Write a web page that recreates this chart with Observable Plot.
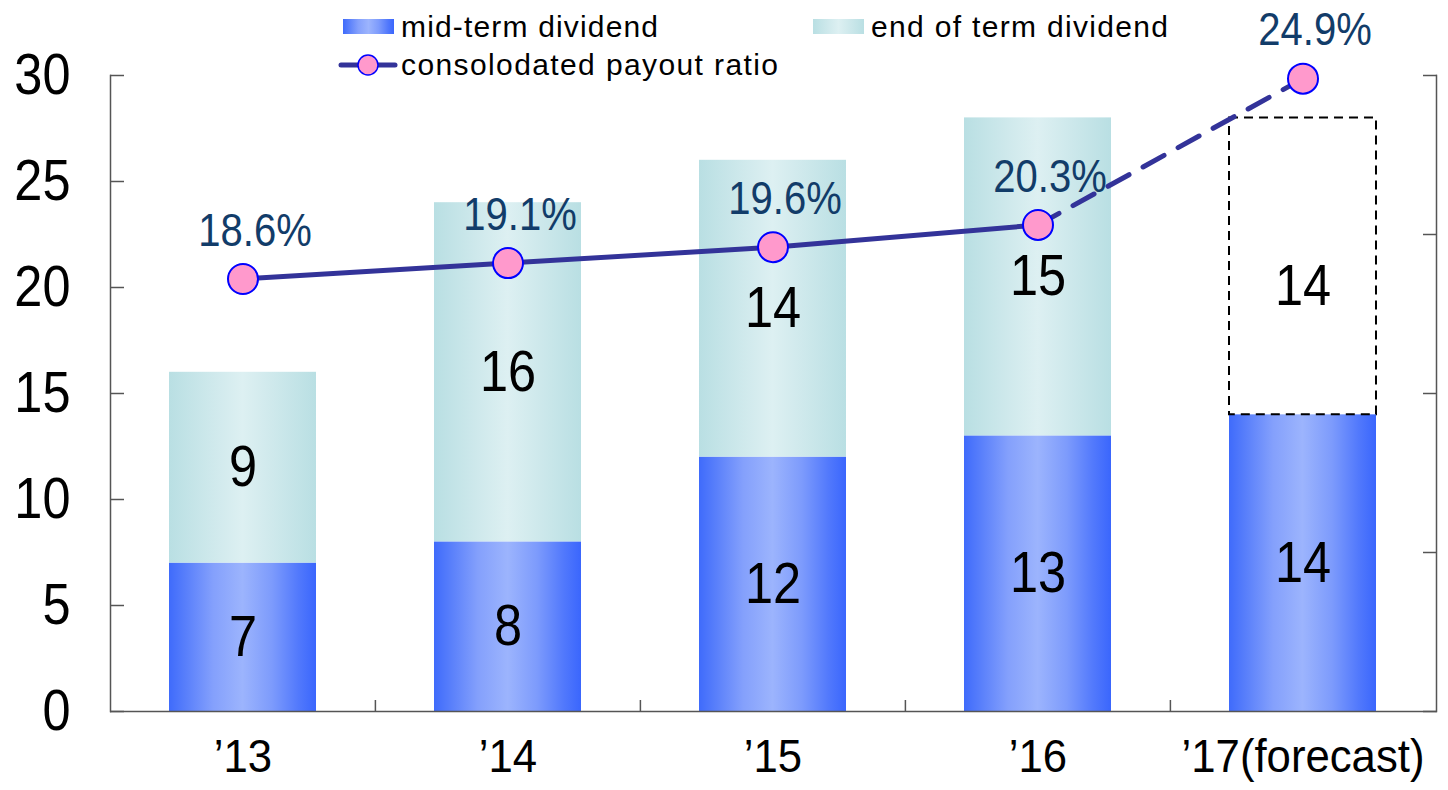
<!DOCTYPE html>
<html>
<head>
<meta charset="utf-8">
<script src="https://cdn.jsdelivr.net/npm/d3@7"></script>
<script src="https://cdn.jsdelivr.net/npm/@observablehq/plot@0.6"></script>
<style>
  html, body { margin: 0; padding: 0; background: #fff; }
  #chart { position: relative; width: 1448px; height: 790px; }
  #chart svg { position: absolute; left: 0; top: 0; }
</style>
</head>
<body>
<div id="chart"></div>
<script>
// Fiscal years and dividends per share (yen)
const years = ["’13", "’14", "’15", "’16", "’17(forecast)"];
const midTerm = [7, 8, 12, 13, 14];
const endTerm = [9, 16, 14, 15, 14];
// Consolidated payout ratio (%)
const payoutRatio = [18.6, 19.1, 19.6, 20.3, 24.9];
const yTicks = [0, 5, 10, 15, 20, 25, 30];
const ratioTicks = [5, 10, 15, 20, 25];
const legendLabels = ["mid-term dividend", "end of term dividend", "consolodated payout ratio"];

const W = 1448, H = 790;
const mL = 110, mR = 12, mT = 75, mB = 79;
const FONT = `"Liberation Sans", Arimo, Arial, sans-serif`;

// The payout ratio sits on a secondary scale (5%–25%) mapped onto the 0–30 dividend axis
const yMax = 30, ratioMin = 5, ratioMax = 25;
const toLeft = p => (p - ratioMin) * yMax / (ratioMax - ratioMin);

const rows = years.map((year, i) => ({
  year, mid: midTerm[i], end: endTerm[i], ratio: payoutRatio[i], forecast: i === years.length - 1
}));
const actual = rows.filter(d => !d.forecast);
const forecast = rows.filter(d => d.forecast);
const forecastLink = rows.slice(-2);

const MID_STOPS = [[0, "#3f6bfb"], [0.12, "#5a80fb"], [0.3, "#84a0fc"], [0.5, "#9cb4fd"], [0.7, "#7d9bfc"], [0.88, "#5279fc"], [1, "#3a66fd"]];
const END_STOPS = [[0, "#b9dfe3"], [0.3, "#cfe9ec"], [0.5, "#ddf0f2"], [0.7, "#cfe9ec"], [1, "#b9dfe3"]];

// Horizontal "cylinder" shading for the bars
function addGradient(defs, id, stops) {
  const g = defs.append("linearGradient").attr("id", id).attr("x1", 0).attr("x2", 1).attr("y1", 0).attr("y2", 0);
  for (const [o, c] of stops) g.append("stop").attr("offset", o).attr("stop-color", c);
}
function gradients() {
  const defs = d3.create("svg:defs");
  addGradient(defs, "gradMid", MID_STOPS);
  addGradient(defs, "gradEnd", END_STOPS);
  return defs.node();
}

const step = (W - mL - mR) / years.length;

const chart = Plot.plot({
  width: W, height: H,
  marginLeft: mL, marginRight: mR, marginTop: mT, marginBottom: mB,
  style: { fontFamily: FONT, background: "transparent", overflow: "visible", color: "#000" },
  x: { domain: years, paddingInner: 0.445, paddingOuter: 0.2225, label: null },
  y: { domain: [0, yMax], label: null },
  marks: [
    gradients,
    // dividends
    Plot.barY(rows, { x: "year", y1: 0, y2: "mid", fill: "url(#gradMid)" }),
    Plot.barY(actual, { x: "year", y1: "mid", y2: d => d.mid + d.end, fill: "url(#gradEnd)" }),
    Plot.barY(forecast, {
      x: "year", y1: "mid", y2: d => d.mid + d.end,
      fill: "white", stroke: "#000", strokeWidth: 2, strokeDasharray: "9,6"
    }),
    // frame lines
    Plot.frame({ anchor: "left", stroke: "#555", strokeWidth: 1.5 }),
    Plot.frame({ anchor: "right", stroke: "#555", strokeWidth: 1.5 }),
    Plot.ruleY([0], { stroke: "#555", strokeWidth: 1.5 }),
    // left axis: labels and inward ticks
    Plot.axisY({ anchor: "left", ticks: yTicks, tickSize: 0, tickPadding: 40, fontSize: 58, label: null, stroke: "none" }),
    Plot.axisY({ anchor: "left", ticks: yTicks, tickSize: -14, fill: "none", stroke: "#555", strokeWidth: 1.5, label: null }),
    // right axis: ratio ticks only
    Plot.axisY({ anchor: "right", ticks: ratioTicks.map(toLeft), tickSize: -14, fill: "none", stroke: "#555", strokeWidth: 1.5, label: null }),
    // category axis
    Plot.axisX({ anchor: "bottom", tickSize: 0, tickPadding: 27, fontSize: 47, label: null }),
    Plot.ruleX(years.slice(1), { x: d => d, y1: 0, y2: 0.52, dx: -step / 2, stroke: "#555", strokeWidth: 1.5 }),
    // dividend values
    Plot.text(rows, { x: "year", y: d => d.mid / 2, text: d => String(d.mid), fontSize: 58, fill: "#000" }),
    Plot.text(actual, { x: "year", y: d => d.mid + d.end / 2, text: d => String(d.end), fontSize: 58, fill: "#000" }),
    Plot.text(forecast, { x: "year", y: d => d.mid + d.end / 2, text: d => String(d.end), fontSize: 58, fill: "#000", dy: 20 }),
    // payout ratio labels
    Plot.text(rows, {
      x: "year", y: d => toLeft(d.ratio), text: d => d.ratio.toFixed(1) + "%",
      dx: 12, dy: -48, fontSize: 46, fill: "#123c69", ariaLabel: "ratio label"
    }),
    // payout ratio line
    Plot.line(actual, { x: "year", y: d => toLeft(d.ratio), stroke: "#333399", strokeWidth: 5 }),
    Plot.line(forecastLink, { x: "year", y: d => toLeft(d.ratio), stroke: "#333399", strokeWidth: 5, strokeDasharray: "24,16" }),
    Plot.dot(rows, { x: "year", y: d => toLeft(d.ratio), r: 15, fill: "#ff99cc", stroke: "#0000ff", strokeWidth: 2 })
  ]
});

const root = document.getElementById("chart");
root.appendChild(chart);

// Narrow the lettering horizontally (condensed look)
function squeeze(selection, k) {
  selection.each(function () {
    const w = this.getComputedTextLength();
    if (w > 0) {
      this.setAttribute("textLength", w * k);
      this.setAttribute("lengthAdjust", "spacingAndGlyphs");
    }
  });
}
const svg = d3.select(chart);
const RATIO_SEL = 'g[aria-label="ratio label"]';
const XTICK_SEL = 'g[aria-label="x-axis tick label"]';
squeeze(svg.selectAll("text").filter(function () {
  return this.closest(RATIO_SEL) == null && this.closest(XTICK_SEL) == null;
}), 0.87);
squeeze(svg.selectAll(`${RATIO_SEL} text`), 0.78);
squeeze(svg.selectAll(`${XTICK_SEL} text`), 0.93);

// Legend, above the plot area
const leg = d3.select(root).append("svg")
  .attr("width", W).attr("height", 90)
  .style("position", "absolute").style("left", 0).style("top", 0)
  .style("font-family", FONT);
const ldefs = leg.append("defs");
addGradient(ldefs, "legMid", MID_STOPS);
addGradient(ldefs, "legEnd", END_STOPS);
leg.append("rect").attr("x", 343).attr("y", 19).attr("width", 51).attr("height", 15).attr("fill", "url(#legMid)");
leg.append("rect").attr("x", 813).attr("y", 19).attr("width", 51).attr("height", 15).attr("fill", "url(#legEnd)");
leg.append("line").attr("x1", 341).attr("x2", 395).attr("y1", 65).attr("y2", 65)
  .attr("stroke", "#333399").attr("stroke-width", 5).attr("stroke-linecap", "round");
leg.append("circle").attr("cx", 368).attr("cy", 65).attr("r", 10)
  .attr("fill", "#ff99cc").attr("stroke", "#0000ff").attr("stroke-width", 1.5);
const legendText = [
  { label: legendLabels[0], x: 401, y: 37, w: 257 },
  { label: legendLabels[1], x: 871, y: 37, w: 297 },
  { label: legendLabels[2], x: 401, y: 75, w: 377 }
];
leg.selectAll("text.leg").data(legendText).join("text")
  .attr("class", "leg")
  .attr("x", d => d.x).attr("y", d => d.y)
  .attr("font-size", 30).attr("fill", "#000")
  .attr("textLength", d => d.w).attr("lengthAdjust", "spacing")
  .text(d => d.label);
</script>
</body>
</html>
